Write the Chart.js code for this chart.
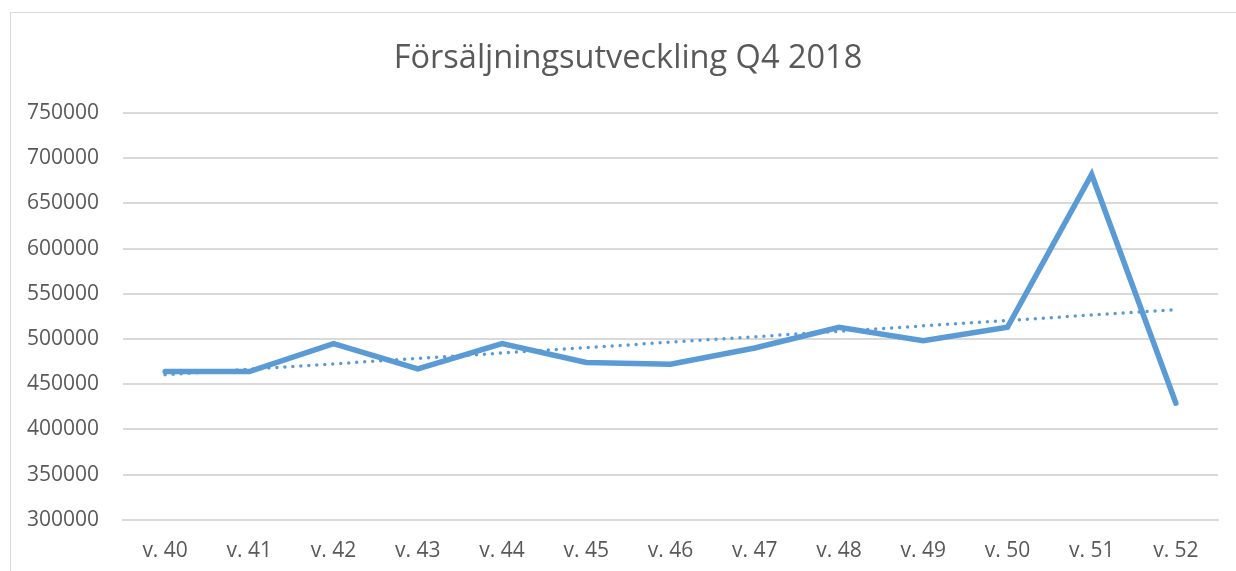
<!DOCTYPE html>
<html>
<head>
<meta charset="utf-8">
<script src="https://cdn.jsdelivr.net/npm/chart.js@4"></script>
<style>
  html, body { margin: 0; padding: 0; background: #fff; overflow: hidden; }
  #frame {
    position: absolute; left: 10px; top: 12px;
    width: 1240px; height: 580px;
    border: 1px solid #d9d9d9;
  }
  #wrap { position: absolute; left: 0; top: 0; width: 1234px; height: 570px; }
</style>
</head>
<body>
<div id="frame">
  <div id="wrap"><canvas id="myChart"></canvas></div>
</div>
<script>
const weeks = ["v. 40", "v. 41", "v. 42", "v. 43", "v. 44", "v. 45", "v. 46",
               "v. 47", "v. 48", "v. 49", "v. 50", "v. 51", "v. 52"];
const sales = [464000, 464000, 495000, 467000, 495000, 474000, 472000,
               490000, 513000, 498000, 513000, 682000, 429000];
// trend line end points (linear, as drawn in the picture)
const trendStart = 460500;
const trendEnd = 532500;
const yTicks = { min: 300000, max: 750000, step: 50000 };

const blue = "#5B9BD5";
const grey = "#595959";
const gridColor = "#d9d9d9";

document.addEventListener("DOMContentLoaded", function () {
    const ctx = document.getElementById("myChart").getContext("2d");

    new Chart(ctx, {
        type: "line",
        data: {
            labels: weeks,
            datasets: [
                {
                    label: "Trend",
                    data: [
                        { x: weeks[0], y: trendStart },
                        { x: weeks[weeks.length - 1], y: trendEnd },
                    ],
                    borderColor: blue,
                    borderWidth: 3.5,
                    borderDash: [0, 8],
                    borderCapStyle: "round",
                    pointRadius: 0,
                    order: 0,
                },
                {
                    label: "Försäljning",
                    data: sales,
                    borderColor: blue,
                    borderWidth: 5.5,
                    borderCapStyle: "round",
                    pointRadius: 0,
                    tension: 0,
                    order: 1,
                },
            ],
        },
        options: {
            responsive: true,
            maintainAspectRatio: false,
            animation: false,
            layout: { padding: 0 },
            plugins: {
                legend: { display: false },
                tooltip: { enabled: false },
                title: {
                    display: true,
                    text: "Försäljningsutveckling Q4 2018",
                    color: grey,
                    font: { family: "'Open Sans', sans-serif", size: 32.5, weight: "normal" },
                    padding: { top: 26, bottom: 35 },
                },
            },
            scales: {
                x: {
                    offset: true,
                    grid: { display: false, drawTicks: false },
                    border: { display: true, color: gridColor, width: 2 },
                    ticks: {
                        color: grey,
                        padding: 19,
                        font: { family: "'Open Sans', sans-serif", size: 21 },
                    },
                },
                y: {
                    min: yTicks.min,
                    max: yTicks.max,
                    afterFit: function (scale) { scale.width = 112; },
                    grid: { color: gridColor, lineWidth: 2, drawTicks: false },
                    border: { display: false },
                    ticks: {
                        stepSize: yTicks.step,
                        color: grey,
                        padding: 24,
                        font: { family: "'Open Sans', sans-serif", size: 21 },
                        callback: (v) => String(v),
                    },
                },
                // empty right-hand spacer so the title centres over the whole frame
                yRight: {
                    position: "right",
                    min: yTicks.min,
                    max: yTicks.max,
                    afterFit: function (scale) { scale.width = 27; },
                    grid: { display: false, drawTicks: false },
                    border: { display: false },
                    ticks: { display: false },
                },
            },
        },
    });
});
</script>
</body>
</html>
